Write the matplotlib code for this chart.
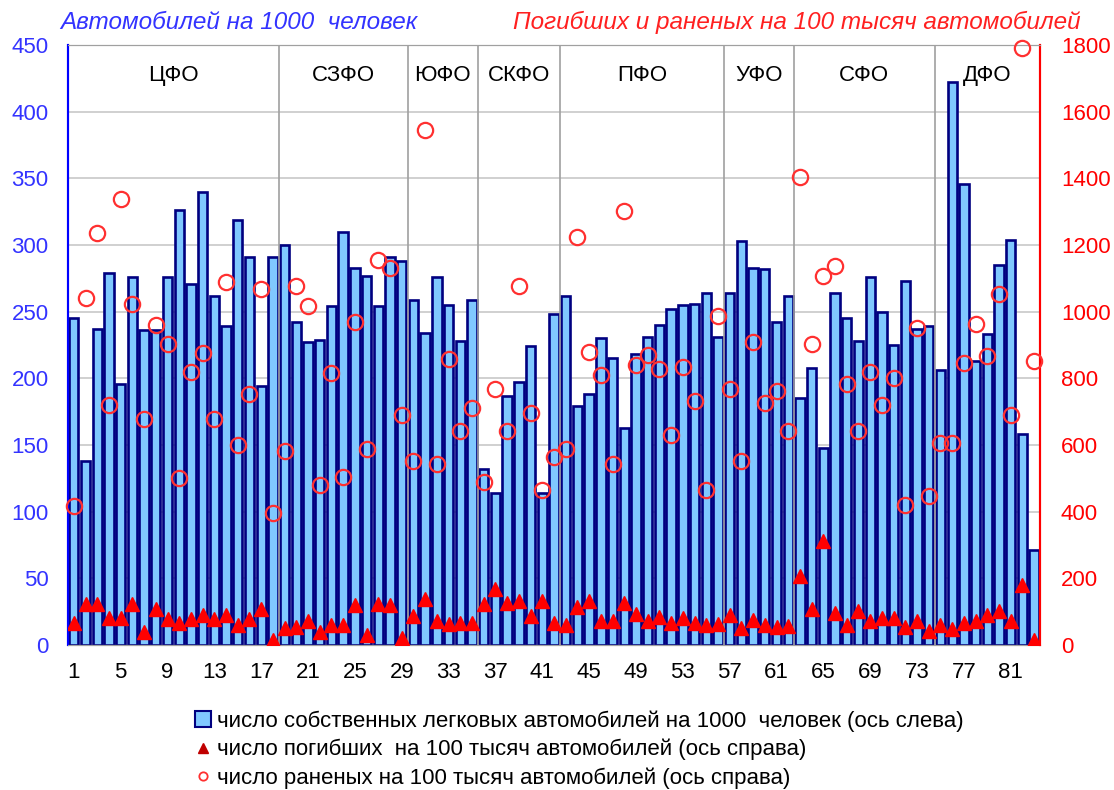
import numpy as np
import matplotlib
matplotlib.use("Agg")
import matplotlib.pyplot as plt
from matplotlib.lines import Line2D
from matplotlib.patches import Patch

plt.rcParams['font.family'] = ['Liberation Sans', 'DejaVu Sans']

# Data: regions 1..83
cars = [245, 138, 237, 279, 196, 276, 236, 236, 276, 326,
        271, 340, 262, 239, 319, 291, 194, 291, 300, 242,
        227, 229, 254, 310, 283, 277, 254, 291, 288, 259,
        234, 276, 255, 228, 259, 132, 114, 187, 197, 224,
        114, 248, 262, 179, 188, 230, 215, 163, 218, 231,
        240, 252, 255, 256, 264, 231, 264, 303, 283, 282,
        242, 262, 185, 208, 148, 264, 245, 228, 276, 250,
        225, 273, 237, 239, 206, 422, 346, 213, 233, 285,
        304, 158, 71]

killed = [65, 124, 124, 82, 82, 124, 40, 108, 78, 67,
          79, 90, 79, 90, 60, 78, 108, 16, 50, 54,
          73, 38, 60, 60, 120, 30, 124, 120, 22, 88,
          139, 73, 64, 66, 66, 124, 168, 127, 132, 88,
          132, 67, 60, 115, 132, 73, 73, 127, 94, 73,
          85, 66, 82, 67, 60, 64, 91, 52, 76, 60,
          55, 58, 208, 108, 312, 97, 60, 103, 73, 82,
          82, 55, 73, 42, 60, 48, 67, 73, 90, 103,
          73, 180, 16]

injured = [418, 1042, 1236, 720, 1338, 1022, 678, 960, 904, 502,
           820, 876, 678, 1090, 600, 754, 1069, 397, 583, 1078,
           1018, 481, 816, 505, 970, 589, 1156, 1130, 691, 553,
           1546, 544, 858, 643, 712, 490, 768, 643, 1078, 697,
           466, 565, 589, 1224, 880, 810, 544, 1302, 840, 870,
           828, 630, 834, 732, 466, 988, 768, 553, 910, 726,
           762, 643, 1404, 904, 1108, 1138, 784, 643, 820, 720,
           802, 421, 952, 448, 607, 607, 846, 964, 868, 1054,
           690, 1792, 852]

districts = ["ЦФО", "СЗФО", "ЮФО", "СКФО", "ПФО", "УФО", "СФО", "ДФО"]
district_sizes = [18, 11, 6, 7, 14, 6, 12, 9]

x = np.arange(1, len(cars) + 1)

fig = plt.figure(figsize=(11.14, 7.9), dpi=100)
ax = fig.add_axes([0.061, 0.1835, 0.8726, 0.7595])
ax2 = ax.twinx()

# bars (left axis)
ax.bar(x, cars, width=0.8, color="#80C8FF", edgecolor="#000080",
       linewidth=1.9, zorder=2)
ax.set_xlim(0.5, len(cars) + 0.5)
ax.set_ylim(0, 450)
ax.set_yticks(range(0, 451, 50))
ax.grid(axis="y", color="#C8C8C8", linewidth=1.2, zorder=0)
ax.set_axisbelow(True)
ax.set_xticks(x[::4])
ax.tick_params(axis="x", labelsize=16, length=0, pad=12)
ax.tick_params(axis="y", colors="#3333FF", labelsize=16, length=0, pad=14)

# district separators and names
bounds = np.cumsum(district_sizes)
starts = np.concatenate([[0], bounds[:-1]])
for b in bounds[:-1]:
    ax.axvline(b + 0.5, color="#A0A0A0", linewidth=1.2, zorder=3)
for name, s, n in zip(districts, starts, district_sizes):
    ax.text(s + n / 2 + 0.5, 0.949, name, transform=ax.get_xaxis_transform(),
            ha="center", va="center", fontsize=16, zorder=5)

# markers (right axis)
ax2.plot(x, killed, linestyle="none", marker="^", markersize=10,
         color="#FF0000", zorder=4)
ax2.plot(x, injured, linestyle="none", marker="o", markersize=11,
         markerfacecolor="none", markeredgecolor="#FF3030",
         markeredgewidth=1.6, zorder=4, clip_on=False)
ax2.set_ylim(0, 1800)
ax2.set_yticks(range(0, 1801, 200))
ax2.tick_params(axis="y", colors="#FF0000", labelsize=16, length=0, pad=15)

# spines
for a in (ax, ax2):
    a.spines["top"].set_color("#A0A0A0")
    a.spines["bottom"].set_color("#A0A0A0")
    a.spines["left"].set_color("#0000FF")
    a.spines["right"].set_color("#FF0000")
    a.spines["left"].set_linewidth(1.5)
    a.spines["right"].set_linewidth(1.5)

# axis titles
fig.text(0.054, 0.972, "Автомобилей на 1000  человек", color="#3333FF",
         fontsize=17.5, style="italic", ha="left", va="center")
fig.text(0.97, 0.972, "Погибших и раненых на 100 тысяч автомобилей",
         color="#FF2020", fontsize=17.5, style="italic", ha="right", va="center")

# legend
handles = [
    Patch(facecolor="#80C8FF", edgecolor="#000080", linewidth=1.5),
    Line2D([], [], linestyle="none", marker="^", markersize=7, color="#C00000"),
    Line2D([], [], linestyle="none", marker="o", markersize=6,
           markerfacecolor="none", markeredgecolor="#FF3030", markeredgewidth=1.3),
]
labels = [
    "число собственных легковых автомобилей на 1000  человек (ось слева)",
    "число погибших  на 100 тысяч автомобилей (ось справа)",
    "число раненых на 100 тысяч автомобилей (ось справа)",
]
fig.legend(handles, labels, loc="upper left", bbox_to_anchor=(0.175, 0.101),
           frameon=False, fontsize=16, handlelength=0.7, handletextpad=0.3,
           labelspacing=0.32, borderaxespad=0, borderpad=0)

fig.savefig("out.png", dpi=100)
